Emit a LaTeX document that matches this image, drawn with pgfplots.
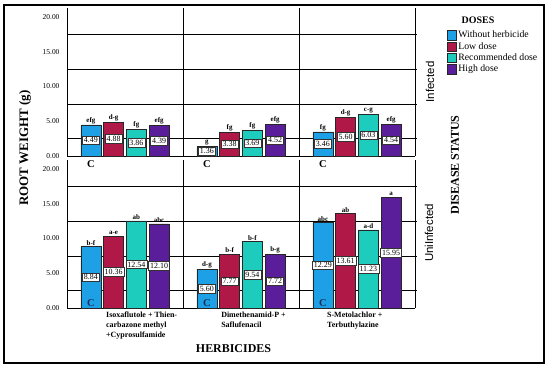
\documentclass[border=0pt]{standalone}
\usepackage{pgfplots}
\pgfplotsset{compat=1.18}
\usepackage{pgfplotstable}
\usepackage{fontspec}
\setmainfont{Liberation Serif}
\newfontfamily\sansf{Liberation Sans}
\definecolor{cblue}{HTML}{1EA0E6}
\definecolor{cred}{HTML}{B01848}
\definecolor{cteal}{HTML}{1ECCBE}
\definecolor{cpurp}{HTML}{5A1E9B}
\definecolor{cnavy}{HTML}{1C2D5C}

\pgfplotstableread{
c wo wol lo lol re rel hi hil
0.5 4.49 efg 4.88 d-g 3.86 fg 4.39 efg
1.5 1.36 g 3.38 fg 3.69 fg 4.52 efg
2.5 3.46 fg 5.60 d-g 6.03 c-g 4.54 efg
}\infected
\pgfplotstableread{
c wo wol lo lol re rel hi hil
0.5 8.84 b-f 10.36 a-e 12.54 ab 12.10 abc
1.5 5.60 d-g 7.77 b-f 9.54 b-f 7.72 b-g
2.5 12.29 abc 13.61 ab 11.23 a-d 15.95 a
}\uninfected

\newcommand{\dose}[5]{%
 \addplot[ybar, bar width=0.172, bar shift=0pt, fill=#5, draw=black!85, line width=0.5pt,
   nodes near coords, point meta=explicit symbolic,
   every node near coord/.append style={font=\bfseries\fontsize{7}{8}\selectfont, text=black, inner sep=1pt, anchor=south},
   legend image code/.code={\draw[fill=#5,draw=black!85,line width=0.5pt] (0bp,-4.75bp) rectangle (9.5bp,4.75bp);}]
   table[x expr=\thisrow{c}+#4, y=#2, meta=#3] {#1};
 \addplot[forget plot, draw=none, mark=none, nodes near coords, point meta=explicit symbolic,
   every node near coord/.append style={font=\fontsize{8}{9}\selectfont, text=black, fill=white, draw=black!80, line width=0.5pt, inner sep=1.6pt, anchor=center}]
   table[x expr=\thisrow{c}+#4, y expr=\thisrow{#2}/2, meta=#2] {#1};
}
\newcommand{\gridlines}{%
 \pgfplotsinvokeforeach{2.5,7.5,12.5,17.5}{\draw[black, line width=0.5pt] (axis cs:0,##1) -- (axis cs:3.02,##1);}
 \pgfplotsinvokeforeach{1,2,3}{\draw[black, line width=0.5pt] (axis cs:##1,0) -- (axis cs:##1,21.3);}
}

\pgfplotsset{panel/.style={
  scale only axis, width=348bp, height=148bp,
  xmin=0, xmax=3, ymin=0, ymax=21.3,
  axis x line*=bottom, axis y line*=left,
  axis line style={black, line width=0.6pt},
  major tick length=0pt,
  ytick={0,5,10,15,20},
  /pgf/number format/assume math mode=true,
  yticklabel style={/pgf/number format/fixed, /pgf/number format/fixed zerofill,
    /pgf/number format/precision=2, font=\fontsize{7.5}{8}\selectfont, xshift=-4bp},
  clip=false,
}}

\begin{document}
\begin{tikzpicture}[x=1bp,y=1bp]
\useasboundingbox (0,0) rectangle (550,371);
\draw[line width=1.2bp] (4,8) rectangle (544,366);

% top panel: Infected
\begin{axis}[panel, at={(67bp,215bp)}, anchor=south west, xtick=\empty,
  legend style={at={(1.091,0.855)}, anchor=north west, draw=none, fill=none,
    font=\fontsize{9.8}{11}\selectfont, inner sep=0pt, nodes={inner sep=1.5pt}},
  legend cell align=left,
  legend entries={Without herbicide, Low dose, Recommended dose, High dose}]
 \gridlines
 \dose{\infected}{wo}{wol}{-0.294}{cblue}
 \dose{\infected}{lo}{lol}{-0.098}{cred}
 \dose{\infected}{re}{rel}{0.098}{cteal}
 \dose{\infected}{hi}{hil}{0.294}{cpurp}
 \node[font=\bfseries\fontsize{10.5}{11}\selectfont, text=black] at (axis cs:0.206,-1.1) {C};
 \node[font=\bfseries\fontsize{10.5}{11}\selectfont, text=black] at (axis cs:1.206,-1.1) {C};
 \node[font=\bfseries\fontsize{10.5}{11}\selectfont, text=black] at (axis cs:2.206,-1.1) {C};
\end{axis}

% bottom panel: Uninfected
\begin{axis}[panel, at={(67bp,63bp)}, anchor=south west,
  xtick={0.336,1.328,2.241},
  xticklabels={{Isoxaflutole + Thien-\\carbazone methyl\\+Cyprosulfamide},{Dimethenamid-P +\\Saflufenacil},{S-Metolachlor +\\Terbuthylazine}},
  xticklabel style={anchor=north west, align=left, font=\bfseries\fontsize{8}{10}\selectfont, inner sep=0pt, yshift=-4bp}]
 \gridlines
 \dose{\uninfected}{wo}{wol}{-0.294}{cblue}
 \dose{\uninfected}{lo}{lol}{-0.098}{cred}
 \dose{\uninfected}{re}{rel}{0.098}{cteal}
 \dose{\uninfected}{hi}{hil}{0.294}{cpurp}
 \node[font=\bfseries\fontsize{10.5}{11}\selectfont, text=cnavy] at (axis cs:0.206,0.75) {C};
 \node[font=\bfseries\fontsize{10.5}{11}\selectfont, text=cnavy] at (axis cs:1.206,0.75) {C};
 \node[font=\bfseries\fontsize{10.5}{11}\selectfont, text=cnavy] at (axis cs:2.206,0.75) {C};
\end{axis}

\node[font=\bfseries\fontsize{12}{14}\selectfont] at (233.5,22) {HERBICIDES};
\node[font=\bfseries\fontsize{13}{15}\selectfont, rotate=90] at (25,223) {ROOT WEIGHT (g)};
\node[font=\sansf\fontsize{11.5}{13}\selectfont, rotate=90] at (430,289) {Infected};
\node[font=\sansf\fontsize{11.5}{13}\selectfont, rotate=90] at (429,138) {UniInfected};
\node[font=\bfseries\fontsize{12}{14}\selectfont, rotate=90] at (455,206) {DISEASE STATUS};
\node[font=\bfseries\fontsize{10}{12}\selectfont] at (478,351) {DOSES};
\end{tikzpicture}
\end{document}
